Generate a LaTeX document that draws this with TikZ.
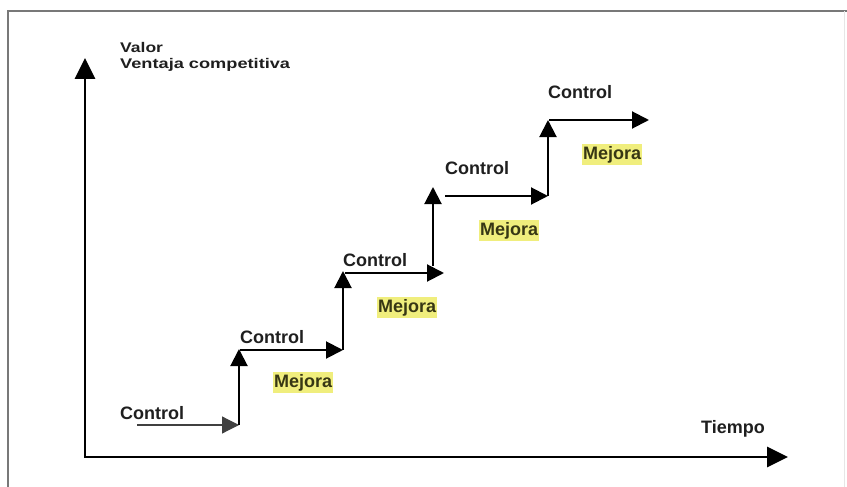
\documentclass[tikz,border=0pt]{standalone}
\usepackage{fontspec}
\setmainfont{Liberation Sans}
\usetikzlibrary{arrows.meta}
\definecolor{hl}{RGB}{240,238,125}
\definecolor{hltext}{RGB}{55,55,20}
\definecolor{framegray}{RGB}{120,120,120}
\definecolor{framelight}{RGB}{230,230,230}
\begin{document}
\begin{tikzpicture}[x=1pt,y=-1pt,
  lbl/.style={font=\bfseries\fontsize{18}{21}\selectfont, text=black!88, inner sep=0pt, anchor=base west},
  axlbl/.style={font=\bfseries\fontsize{14}{17}\selectfont, text=black!88, inner sep=0pt, anchor=base west},
  mej/.style={font=\bfseries\fontsize{18}{21}\selectfont, fill=hl, text=hltext, inner xsep=1pt, inner ysep=2pt, anchor=base west},
  axisline/.style={line width=2.8pt, {Triangle[length=21pt,width=20pt]}-{Triangle[length=21pt,width=20pt]}},
  stepline/.style={line width=2pt, -{Triangle[length=17pt,width=17pt]}},
  thinline/.style={line width=1.2pt, black!75, -{Triangle[length=17pt,width=17pt]}},
  frame/.style={line width=1.8pt, framegray},
]
\useasboundingbox (0,0) rectangle (847,487);
% frame
\coordinate (fr1) at (8,487);
\coordinate (fr2) at (8,11);
\coordinate (fr3) at (847,11);
\coordinate (fr4) at (844,11);
\coordinate (fr5) at (844,487);
\draw[frame] (fr1) -- (fr2) -- (fr3);
\draw[line width=0.8pt, framelight] (fr4) -- (fr5);
% axes
\coordinate (O) at (85,457);
\coordinate (ytip) at (85,58);
\coordinate (xtip) at (788,457);
\draw[axisline] (ytip) -- (O) -- (xtip);
\node[axlbl] (valor) at (120,53) {\scalebox{1.25}[1]{Valor}};
\node[axlbl] (ventaja) at (120,69) {\scalebox{1.3}[1]{Ventaja competitiva}};
\node[lbl] (tiempo) at (701,433) {Tiempo};
% staircase corners
\coordinate (a0) at (137,425);
\coordinate (a1) at (239,425);
\coordinate (a2) at (239,349);
\coordinate (b0) at (240,350);
\coordinate (b1) at (343,350);
\coordinate (b2) at (343,271);
\coordinate (c0) at (345,273);
\coordinate (c1) at (444,273);
\coordinate (d0) at (433,266);
\coordinate (d1) at (433,187);
\coordinate (e0) at (445,196);
\coordinate (e1) at (548,196);
\coordinate (e2) at (548,120);
\coordinate (f0) at (549,120);
\coordinate (f1) at (649,120);
\draw[thinline] (a0) -- (a1);
\draw[stepline] (a1) -- (a2);
\draw[stepline] (b0) -- (b1);
\draw[stepline] (b1) -- (b2);
\draw[stepline] (c0) -- (c1);
\draw[stepline] (d0) -- (d1);
\draw[stepline] (e0) -- (e1);
\draw[stepline] (e1) -- (e2);
\draw[stepline] (f0) -- (f1);
% labels
\node[lbl] (ctrl1) at (120,419) {Control};
\node[lbl] (ctrl2) at (240,343) {Control};
\node[lbl] (ctrl3) at (343,266) {Control};
\node[lbl] (ctrl4) at (445,175) {Control};
\node[lbl] (ctrl5) at (548,99) {Control};
\node[mej] (mej1) at (273,387) {Mejora};
\node[mej] (mej2) at (377,312) {Mejora};
\node[mej] (mej3) at (479,235) {Mejora};
\node[mej] (mej4) at (582,159) {Mejora};
\end{tikzpicture}
\end{document}
